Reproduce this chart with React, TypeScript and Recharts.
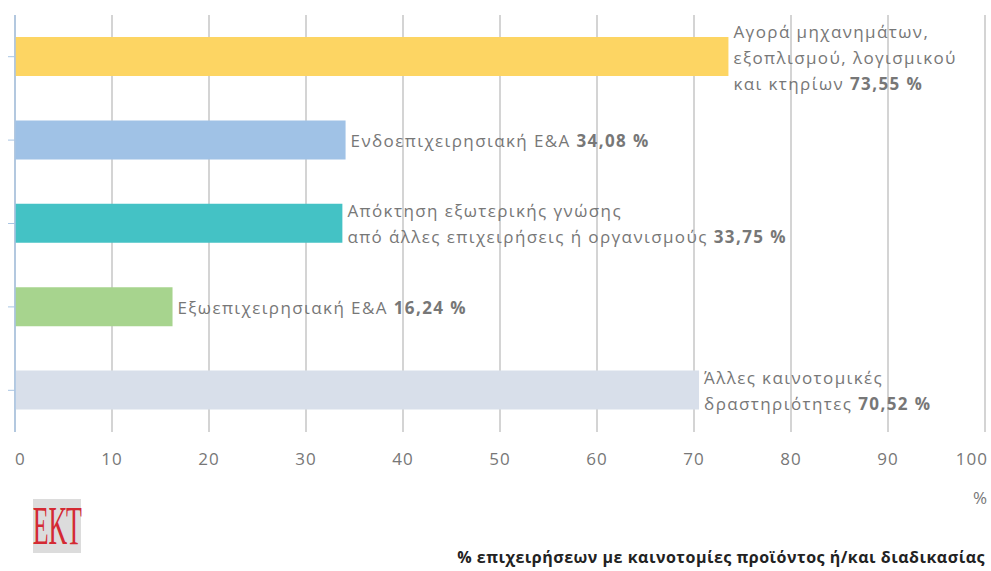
import { Bar, BarChart, CartesianGrid, Cell, LabelList, XAxis, YAxis } from "recharts";

const categories = [
  ["Αγορά μηχανημάτων,", "εξοπλισμού, λογισμικού", "και κτηρίων"],
  ["Ενδοεπιχειρησιακή Ε&Α"],
  ["Απόκτηση εξωτερικής γνώσης", "από άλλες επιχειρήσεις ή οργανισμούς"],
  ["Εξωεπιχειρησιακή Ε&Α"],
  ["Άλλες καινοτομικές", "δραστηριότητες"],
];
const values = [73.55, 34.08, 33.75, 16.24, 70.52];
const valueLabels = ["73,55 %", "34,08 %", "33,75 %", "16,24 %", "70,52 %"];
const barColors = ["#fdd563", "#a0c2e6", "#44c2c5", "#a7d48e", "#d8dfea"];
const xTicks = [0, 10, 20, 30, 40, 50, 60, 70, 80, 90, 100];
const unitLabel = "%";
const footnote = "% επιχειρήσεων με καινοτομίες προϊόντος ή/και διαδικασίας";
const logoText = "ΕΚΤ";

const data = categories.map((lines, i) => ({
  id: String(i),
  lines,
  value: values[i],
  valueLabel: valueLabels[i],
  fill: barColors[i],
}));

const FONT = "'Open Sans', 'DejaVu Sans', sans-serif";

function BarLabel(props: any) {
  const { x, y, width, height, index } = props;
  const d = data[index];
  const lh = 26;
  const n = d.lines.length;
  const cy = y + height / 2;
  const startY = cy - ((n - 1) * lh) / 2;
  const lx = x + width + 5;
  return (
    <text
      x={lx}
      y={startY}
      fill="#777"
      fontSize={17}
      fontFamily={FONT}
      letterSpacing={1.4}
      dominantBaseline="central"
    >
      {d.lines.map((line: string, i: number) => (
        <tspan key={i} x={lx} y={startY + i * lh}>
          {line}
          {i === n - 1 && <tspan fontWeight="bold">{" " + d.valueLabel}</tspan>}
        </tspan>
      ))}
    </text>
  );
}

function XTick(props: any) {
  const { x, y, payload } = props;
  let anchor: "start" | "middle" | "end" = "middle";
  let dx = 0;
  if (payload.value === 0) anchor = "start";
  if (payload.value === 100) {
    anchor = "end";
    dx = 3;
  }
  return (
    <text
      x={x + dx}
      y={y}
      fill="#777"
      fontSize={17}
      letterSpacing={1}
      fontFamily={FONT}
      textAnchor={anchor}
      dy="0.71em"
    >
      {payload.value}
    </text>
  );
}

export default function App() {
  return (
    <div style={{ position: "absolute", left: 0, top: 0, width: 991, height: 571, background: "#fff" }}>
      <BarChart
        width={991}
        height={571}
        data={data}
        layout="vertical"
        margin={{ top: 15, right: 6, left: 0, bottom: 99 }}
        barCategoryGap={44}
      >
        <CartesianGrid horizontal={false} stroke="#c6c6c6" strokeWidth={1.5} />
        <XAxis
          type="number"
          domain={[0, 100]}
          ticks={xTicks}
          axisLine={false}
          tickLine={false}
          tickSize={0}
          tickMargin={21}
          height={40}
          tick={<XTick />}
          interval={0}
        />
        <YAxis
          type="category"
          dataKey="id"
          width={15}
          axisLine={{ stroke: "#a9c5e3", strokeWidth: 1.5 }}
          tickLine={{ stroke: "#a9c5e3" }}
          tickSize={7}
          tick={() => <g />}
        />
        <Bar dataKey="value" barSize={39} isAnimationActive={false}>
          {data.map((d) => (
            <Cell key={d.id} fill={d.fill} />
          ))}
          <LabelList dataKey="value" content={<BarLabel />} />
        </Bar>
      </BarChart>
      <div
        style={{
          position: "absolute",
          left: 973,
          top: 486,
          fontFamily: FONT,
          fontSize: 17,
          color: "#777",
        }}
      >
        {unitLabel}
      </div>
      <div
        style={{
          position: "absolute",
          right: 6,
          top: 546,
          fontFamily: FONT,
          fontSize: 16,
          letterSpacing: 0.5,
          fontWeight: "bold",
          color: "#222",
          whiteSpace: "nowrap",
        }}
      >
        {footnote}
      </div>
      <div
        style={{
          position: "absolute",
          left: 33,
          top: 499,
          width: 48,
          height: 54,
          background: "#dcdcdc",
          display: "flex",
          alignItems: "center",
          justifyContent: "center",
        }}
      >
        <span
          style={{
            fontFamily: "'Liberation Serif', serif",
            fontSize: 54,
            color: "#d42a33",
            transform: "scaleX(0.48)",
            display: "inline-block",
            lineHeight: 1,
            whiteSpace: "nowrap",
          }}
        >
          {logoText}
        </span>
      </div>
    </div>
  );
}
